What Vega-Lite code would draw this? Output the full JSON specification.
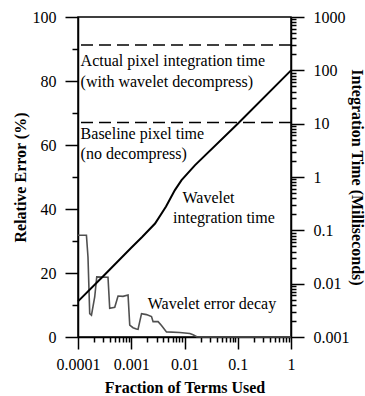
{
  "$schema": "https://vega.github.io/schema/vega-lite/v6.json",
  "width": 213,
  "height": 320,
  "autosize": "none",
  "padding": {"left": 78, "top": 17, "right": 74, "bottom": 59},
  "background": "white",
  "config": {
    "view": {"stroke": "black", "strokeWidth": 1.5},
    "axis": {
      "labelFont": "Liberation Serif, Times New Roman, serif", "labelFontSize": 16, "labelColor": "black",
      "titleFont": "Liberation Serif, Times New Roman, serif", "titleFontSize": 16, "titleFontWeight": "bold", "titleColor": "black",
      "domainColor": "black", "domainWidth": 1.5, "tickColor": "black", "tickWidth": 1.5,
      "grid": false, "labelFlush": false, "labelOverlap": false
    },
    "text": {"font": "Liberation Serif, Times New Roman, serif", "fontSize": 16, "color": "black"}
  },
  "layer": [
    {
      "encoding": {
        "y": {
          "field": "pct", "type": "quantitative",
          "scale": {"domain": [0, 100], "nice": false, "zero": true},
          "axis": {
            "orient": "left", "title": "Relative Error (%)",
            "values": [0, 10, 20, 30, 40, 50, 60, 70, 80, 90, 100],
            "labelExpr": "datum.value % 20 === 0 ? datum.label : ''",
            "tickSize": {"condition": {"test": "datum.value % 20 === 0", "value": 13}, "value": 6},
            "labelPadding": 9,
            "titleX": -58, "titleY": 160, "titleAngle": -90, "titleBaseline": "middle", "titleAlign": "center"
          }
        }
      },
      "layer": [
        {
          "data": {"values": [
            {"f": 0.0001, "pct": 31.8}, {"f": 0.000144, "pct": 31.8}, {"f": 0.000154, "pct": 25},
            {"f": 0.000166, "pct": 7.3}, {"f": 0.000179, "pct": 6.8}, {"f": 0.000206, "pct": 12.5},
            {"f": 0.000225, "pct": 18.8}, {"f": 0.000366, "pct": 18.7}, {"f": 0.000394, "pct": 9.0},
            {"f": 0.00049, "pct": 9.3}, {"f": 0.000565, "pct": 12.8}, {"f": 0.000701, "pct": 12.7},
            {"f": 0.000871, "pct": 13.1}, {"f": 0.000937, "pct": 3.7}, {"f": 0.00108, "pct": 2.9},
            {"f": 0.00125, "pct": 2.5}, {"f": 0.00134, "pct": 2.4}, {"f": 0.00156, "pct": 7.3},
            {"f": 0.00193, "pct": 7.0}, {"f": 0.0024, "pct": 6.4}, {"f": 0.00257, "pct": 4.8},
            {"f": 0.00319, "pct": 4.8}, {"f": 0.0037, "pct": 3.6}, {"f": 0.00459, "pct": 1.6},
            {"f": 0.00816, "pct": 1.4}, {"f": 0.0126, "pct": 1.1}, {"f": 0.0145, "pct": 0.7},
            {"f": 0.017, "pct": 0.1}, {"f": 0.02, "pct": 0}, {"f": 1, "pct": 0}
          ]},
          "mark": {"type": "line", "color": "#505050", "strokeWidth": 1.6},
          "encoding": {
            "x": {
              "field": "f", "type": "quantitative", "title": "Fraction of Terms Used",
              "scale": {"type": "log", "domain": [0.0001, 1], "nice": false},
              "axis": {
                "orient": "bottom",
                "values": [0.0001, 0.0002, 0.0003, 0.0004, 0.0005, 0.0006, 0.0007, 0.0008, 0.0009,
                           0.001, 0.002, 0.003, 0.004, 0.005, 0.006, 0.007, 0.008, 0.009,
                           0.01, 0.02, 0.03, 0.04, 0.05, 0.06, 0.07, 0.08, 0.09,
                           0.1, 0.2, 0.3, 0.4, 0.5, 0.6, 0.7, 0.8, 0.9, 1],
                "format": "~g",
                "labelExpr": "abs(log(datum.value)/LN10 - round(log(datum.value)/LN10)) < 1e-6 ? datum.label : ''",
                "tickSize": {"condition": {"test": "abs(log(datum.value)/LN10 - round(log(datum.value)/LN10)) < 1e-6", "value": 12}, "value": 5},
                "labelPadding": 7,
                "titleY": 50, "titleBaseline": "middle"
              }
            }
          }
        },
        {
          "data": {"values": [
            {"f": 0.000112, "pct": 86.3, "label": "Actual pixel integration time"},
            {"f": 0.000112, "pct": 79.7, "label": "(with wavelet decompress)"},
            {"f": 0.000112, "pct": 63.5, "label": "Baseline pixel time"},
            {"f": 0.000112, "pct": 57.2, "label": "(no decompress)"},
            {"f": 0.00916, "pct": 43.4, "label": "Wavelet"},
            {"f": 0.0061, "pct": 37.2, "label": "integration time"},
            {"f": 0.00204, "pct": 10.2, "label": "Wavelet error decay"}
          ]},
          "mark": {"type": "text", "align": "left", "baseline": "middle"},
          "encoding": {
            "x": {"field": "f", "type": "quantitative", "title": "Fraction of Terms Used", "scale": {"type": "log", "domain": [0.0001, 1], "nice": false}},
            "text": {"field": "label"}
          }
        }
      ]
    },
    {
      "encoding": {
        "y": {
          "field": "ms", "type": "quantitative",
          "scale": {"type": "log", "domain": [0.001, 1000], "nice": false},
          "axis": {
            "orient": "right", "title": "Integration Time (Milliseconds)",
            "values": [0.001, 0.002, 0.003, 0.004, 0.005, 0.006, 0.007, 0.008, 0.009,
                       0.01, 0.02, 0.03, 0.04, 0.05, 0.06, 0.07, 0.08, 0.09,
                       0.1, 0.2, 0.3, 0.4, 0.5, 0.6, 0.7, 0.8, 0.9,
                       1, 2, 3, 4, 5, 6, 7, 8, 9,
                       10, 20, 30, 40, 50, 60, 70, 80, 90,
                       100, 200, 300, 400, 500, 600, 700, 800, 900, 1000],
            "format": "~g",
            "labelExpr": "abs(log(datum.value)/LN10 - round(log(datum.value)/LN10)) < 1e-6 ? datum.label : ''",
            "tickSize": {"condition": {"test": "abs(log(datum.value)/LN10 - round(log(datum.value)/LN10)) < 1e-6", "value": 13}, "value": 5},
            "labelPadding": 9,
            "titleX": 65, "titleY": 160, "titleAngle": 90, "titleBaseline": "middle", "titleAlign": "center"
          }
        }
      },
      "layer": [
        {
          "data": {"values": [{"ms": 300}, {"ms": 10.5}]},
          "mark": {"type": "rule", "color": "black", "strokeWidth": 1.5, "strokeDash": [12, 6]},
          "encoding": {}
        },
        {
          "data": {"values": [
            {"f": 0.0001, "ms": 0.00465}, {"f": 0.0003, "ms": 0.01395}, {"f": 0.001, "ms": 0.0473},
            {"f": 0.0016, "ms": 0.0752}, {"f": 0.0028, "ms": 0.134}, {"f": 0.0045, "ms": 0.28},
            {"f": 0.0066, "ms": 0.568}, {"f": 0.0088, "ms": 0.875}, {"f": 0.0158, "ms": 1.67},
            {"f": 0.1, "ms": 10}, {"f": 1, "ms": 100}
          ]},
          "mark": {"type": "line", "color": "black", "strokeWidth": 2},
          "encoding": {
            "x": {"field": "f", "type": "quantitative", "title": "Fraction of Terms Used", "scale": {"type": "log", "domain": [0.0001, 1], "nice": false}}
          }
        }
      ]
    }
  ],
  "resolve": {"scale": {"y": "independent"}}
}
